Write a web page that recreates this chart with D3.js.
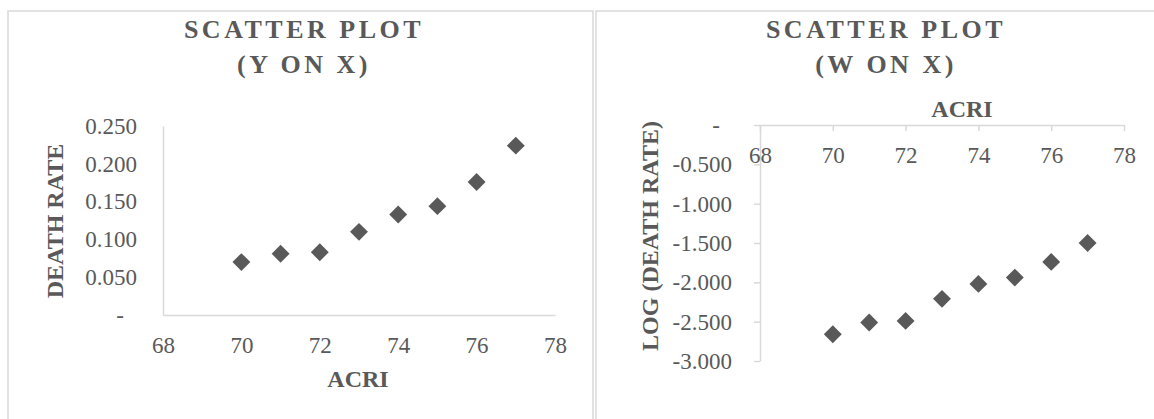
<!DOCTYPE html>
<html>
<head>
<meta charset="utf-8">
<script src="https://cdn.jsdelivr.net/npm/d3@7"></script>
<style>
  html, body { margin: 0; padding: 0; background: #fff; }
  svg { display: block; }
  text { font-family: "Liberation Serif", "Times New Roman", serif; fill: #595959; }
</style>
</head>
<body>
<svg id="chart" width="1154" height="419"></svg>
<script>
// ---- data ----
const acri = [70, 71, 72, 73, 74, 75, 76, 77];
const deathRate = [0.070, 0.081, 0.083, 0.110, 0.133, 0.144, 0.176, 0.224];
const logDeathRate = [-2.66, -2.51, -2.49, -2.21, -2.02, -1.94, -1.74, -1.50];
const xTicks = [68, 70, 72, 74, 76, 78];
const yTicksLeft = [0, 0.05, 0.10, 0.15, 0.20, 0.25];
const yTicksRight = [0, -0.5, -1.0, -1.5, -2.0, -2.5, -3.0];
const titleLine1 = "SCATTER PLOT";
const titleLeftLine2 = "(Y ON X)";
const titleRightLine2 = "(W ON X)";
const xTitle = "ACRI";
const yTitleLeft = "DEATH RATE";
const yTitleRight = "LOG (DEATH RATE)";

// ---- styles ----
const gray = "#595959";
const lineGray = "#d9d9d9";
const tickFont = "23px";
const fmt = d => d === 0 ? "-" : d.toFixed(3);

const svg = d3.select("#chart");

// panel borders
svg.append("rect").attr("x", 8).attr("y", 11).attr("width", 585).attr("height", 430)
  .attr("fill", "none").attr("stroke", lineGray).attr("stroke-width", 1.5);
svg.append("rect").attr("x", 596).attr("y", 11).attr("width", 600).attr("height", 430)
  .attr("fill", "none").attr("stroke", lineGray).attr("stroke-width", 1.5);

function title(cx, line2) {
  const t = svg.append("text").attr("text-anchor", "middle")
    .style("font-size", "26px").style("font-weight", "bold").style("letter-spacing", "3.5px");
  t.append("tspan").attr("x", cx).attr("y", 38).text(titleLine1);
  t.append("tspan").attr("x", cx).attr("y", 73).text(line2);
}

function styleAxis(g, zeroShift) {
  g.select(".domain").attr("stroke", lineGray).attr("stroke-width", 1.5);
  g.selectAll(".tick line").attr("stroke", lineGray).attr("stroke-width", 1.5);
  g.selectAll(".tick text").attr("fill", gray)
    .style("font-family", '"Liberation Serif", "Times New Roman", serif')
    .style("font-size", tickFont);
  if (zeroShift) {
    g.selectAll(".tick text").filter(d => d === 0).attr("dx", zeroShift);
  }
}

const diamond = d3.symbol().type(d3.symbolSquare).size(160);

// ================= LEFT CHART =================
const xL = d3.scaleLinear().domain([68, 78]).range([163, 555]);
const yL = d3.scaleLinear().domain([0, 0.25]).range([315, 126]);

title(304, titleLeftLine2);

const gyL = svg.append("g").attr("transform", `translate(${xL.range()[0]},0)`)
  .call(d3.axisLeft(yL).tickValues(yTicksLeft).tickFormat(fmt).tickSize(0).tickPadding(26).tickSizeOuter(0));
styleAxis(gyL, -13);

const gxL = svg.append("g").attr("transform", `translate(0,${yL(0)})`)
  .call(d3.axisBottom(xL).tickValues(xTicks).tickFormat(d3.format("d")).tickSize(0).tickPadding(22).tickSizeOuter(0));
styleAxis(gxL, 0);

svg.append("text").attr("x", 358).attr("y", 387).attr("text-anchor", "middle")
  .style("font-size", "24px").style("font-weight", "bold").text(xTitle);
svg.append("text").attr("transform", "translate(63,221) rotate(-90)").attr("text-anchor", "middle")
  .style("font-size", "24px").style("font-weight", "bold").text(yTitleLeft);

svg.append("g").selectAll("path").data(acri).join("path")
  .attr("d", diamond)
  .attr("transform", (d, i) => `translate(${xL(d)},${yL(deathRate[i])}) rotate(45)`)
  .attr("fill", gray);

// ================= RIGHT CHART =================
const xR = d3.scaleLinear().domain([68, 78]).range([760, 1124]);
const yR = d3.scaleLinear().domain([-3, 0]).range([361, 125]);

title(886, titleRightLine2);

const gyR = svg.append("g").attr("transform", `translate(${xR.range()[0]},0)`)
  .call(d3.axisLeft(yR).tickValues(yTicksRight).tickFormat(fmt).tickSize(6).tickPadding(22).tickSizeOuter(0));
styleAxis(gyR, -12);

const gxR = svg.append("g").attr("transform", `translate(0,${yR(0)})`)
  .call(d3.axisBottom(xR).tickValues(xTicks).tickFormat(d3.format("d")).tickSize(6).tickPadding(16).tickSizeOuter(0));
styleAxis(gxR, 0);

svg.append("text").attr("x", 962).attr("y", 117).attr("text-anchor", "middle")
  .style("font-size", "24px").style("font-weight", "bold").text(xTitle);
svg.append("text").attr("transform", "translate(658,236) rotate(-90)").attr("text-anchor", "middle")
  .style("font-size", "24px").style("font-weight", "bold").text(yTitleRight);

svg.append("g").selectAll("path").data(acri).join("path")
  .attr("d", diamond)
  .attr("transform", (d, i) => `translate(${xR(d)},${yR(logDeathRate[i])}) rotate(45)`)
  .attr("fill", gray);
</script>
</body>
</html>
